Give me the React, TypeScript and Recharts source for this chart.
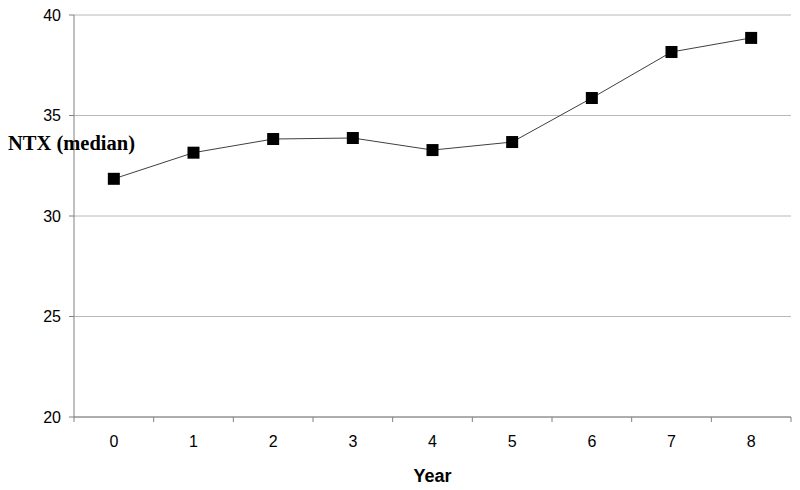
import React from 'react';
import { LineChart, Line, XAxis, YAxis, CartesianGrid, Label } from 'recharts';

const years = [0, 1, 2, 3, 4, 5, 6, 7, 8];
const ntxMedian = [31.85, 33.15, 33.83, 33.88, 33.28, 33.68, 35.87, 38.16, 38.86];
const yTicks = [20, 25, 30, 35, 40];
const boundaryTicks = [-0.5, 0.5, 1.5, 2.5, 3.5, 4.5, 5.5, 6.5, 7.5, 8.5];
const yAxisTitle = 'NTX (median)';
const xAxisTitle = 'Year';

const data = years.map((y, i) => ({ year: y, ntx: ntxMedian[i] }));

const CHART_W = 800;
const CHART_H = 490;
const MARGIN = { top: 15, right: 9, bottom: 0, left: 0 };
const Y_W = 74;

const XTick = (props: any) => {
  const { x, y, payload } = props;
  const plotW = typeof props.width === 'number' && props.width > 100 ? props.width : CHART_W - Y_W - MARGIN.right;
  const band = plotW / years.length;
  if (payload.value > years[years.length - 1]) return <g />;
  return (
    <text
      x={x + band / 2}
      y={y}
      dy="0.71em"
      textAnchor="middle"
      fontFamily="'Liberation Sans', Arial, sans-serif"
      fontSize={16}
      fill="#000"
    >
      {payload.value + 0.5}
    </text>
  );
};

const SquareDot = (props: any) => {
  const { cx, cy } = props;
  if (cx == null || cy == null) return <g />;
  return <rect x={cx - 6} y={cy - 6} width={12} height={12} fill="#000" />;
};

export default function App() {
  return (
    <div style={{ position: 'absolute', left: 0, top: 0, background: '#fff' }}>
      <LineChart width={CHART_W} height={CHART_H} data={data} margin={MARGIN}>
        <CartesianGrid horizontal vertical={false} stroke="#b8b8b8" strokeWidth={1} />
        <XAxis
          dataKey="year"
          type="number"
          domain={[-0.5, 8.5]}
          ticks={boundaryTicks}
          interval={0}
          height={73}
          tickSize={5}
          tickMargin={14}
          axisLine={{ stroke: '#808080' }}
          tickLine={{ stroke: '#808080' }}
          tick={<XTick />}
        >
          <Label
            value={xAxisTitle}
            position="insideBottom"
            offset={8}
            style={{ fontFamily: "'Liberation Sans', Arial, sans-serif", fontSize: 18, fontWeight: 'bold', fill: '#000' }}
          />
        </XAxis>
        <YAxis
          type="number"
          domain={[20, 40]}
          ticks={yTicks}
          interval={0}
          width={Y_W}
          tickSize={5}
          tickMargin={8}
          axisLine={{ stroke: '#808080' }}
          tickLine={{ stroke: '#808080' }}
          tick={{ fontFamily: "'Liberation Sans', Arial, sans-serif", fontSize: 16, fill: '#000' }}
        >
          <Label
            content={() => (
              <text
                x={8}
                y={150}
                fontFamily="'Liberation Serif', 'Times New Roman', serif"
                fontSize={20.5}
                fontWeight="bold"
                fill="#000"
              >
                {yAxisTitle}
              </text>
            )}
          />
        </YAxis>
        <YAxis
          yAxisId="right"
          orientation="right"
          width={0}
          domain={[20, 40]}
          tick={false}
          tickLine={false}
          axisLine={{ stroke: '#c0c0c0' }}
        />
        <Line
          type="linear"
          dataKey="ntx"
          stroke="#404040"
          strokeWidth={1}
          dot={<SquareDot />}
          activeDot={false}
          isAnimationActive={false}
        />
      </LineChart>
    </div>
  );
}
